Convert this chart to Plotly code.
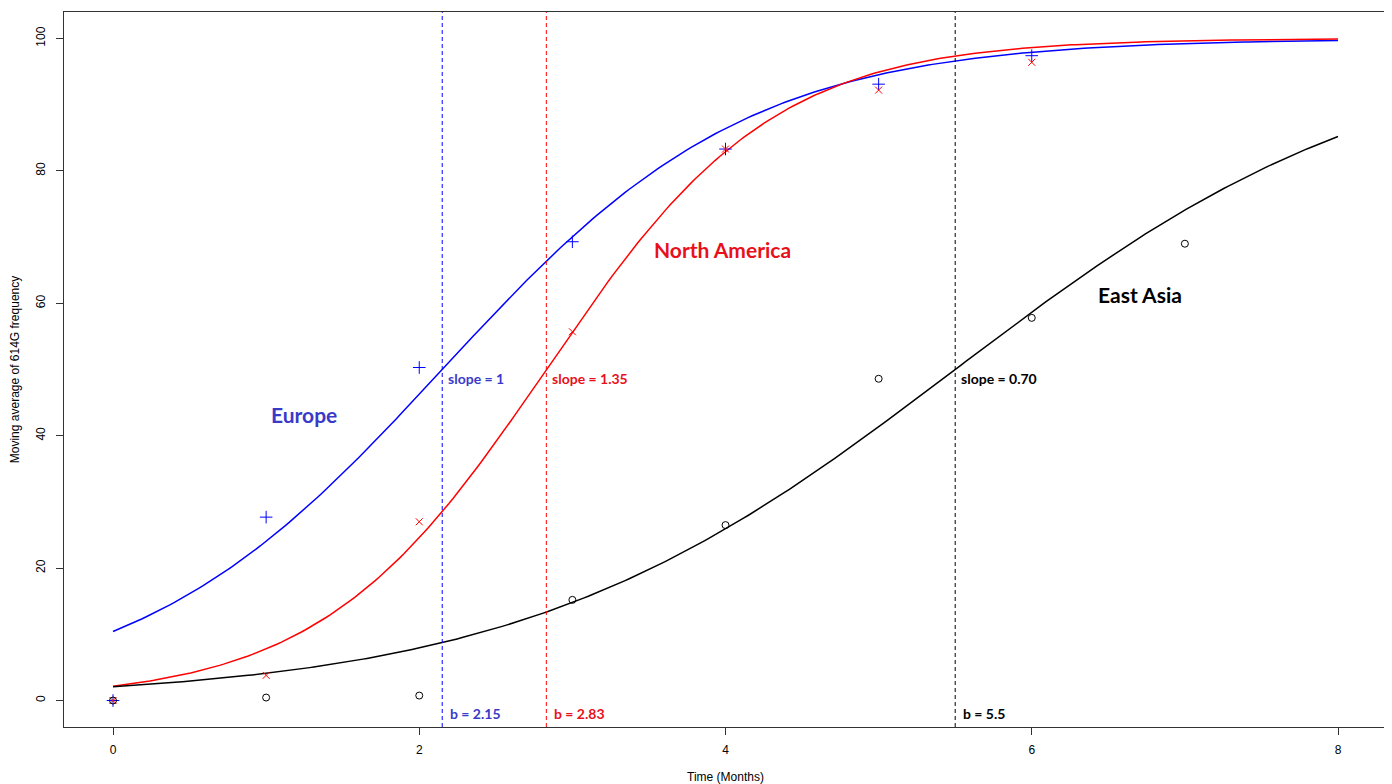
import numpy as np
import plotly.graph_objects as go

# Observed points
months = [0, 1, 2, 3, 4, 5, 6, 7]
europe = [0, 27.7, 50.3, 69.3, 83.3, 93.1, 97.4]
north_america = [0, 3.8, 27.0, 55.7, 83.3, 92.2, 96.4]
east_asia = [0, 0.45, 0.75, 15.2, 26.5, 48.6, 57.8, 69.0]

# Fitted logistic parameters (as labelled on the chart)
regions = ["Europe", "North America", "East Asia"]
b_vals = [2.15, 2.83, 5.5]
slopes = [1.0, 1.35, 0.70]
slope_labels = ["slope = 1", "slope = 1.35", "slope = 0.70"]
b_labels = ["b = 2.15", "b = 2.83", "b = 5.5"]

line_colors = ["#0000ff", "#ff0000", "#000000"]
text_colors = ["#3a3ac8", "#e8101a", "#000000"]

xs = np.linspace(0, 8, 300)

fig = go.Figure()

for b, s, c in zip(b_vals, slopes, line_colors):
    ys = 100 / (1 + np.exp(-s * (xs - b)))
    fig.add_trace(go.Scatter(x=xs, y=ys, mode="lines", line=dict(color=c, width=1.5),
                             showlegend=False, hoverinfo="skip"))

fig.add_trace(go.Scatter(x=months[:len(europe)], y=europe, mode="markers",
                         marker=dict(symbol="cross-thin-open", size=9, color="#0000ff",
                                     line=dict(color="#0000ff", width=1)),
                         showlegend=False))
fig.add_trace(go.Scatter(x=months[:len(north_america)], y=north_america, mode="markers",
                         marker=dict(symbol="x-thin-open", size=7, color="#ff0000",
                                     line=dict(color="#ff0000", width=1)),
                         showlegend=False))
fig.add_trace(go.Scatter(x=months[:len(east_asia)], y=east_asia, mode="markers",
                         marker=dict(symbol="circle-open", size=7, color="#000000",
                                     line=dict(color="#000000", width=1)),
                         showlegend=False))

for b, c in zip(b_vals, line_colors):
    fig.add_shape(type="line", x0=b, x1=b, y0=0, y1=1, xref="x", yref="paper",
                  line=dict(color=c, width=1, dash="4px,3px"))

bold = "Lato, Open Sans, sans-serif"
for b, sl, bl, tc in zip(b_vals, slope_labels, b_labels, text_colors):
    fig.add_annotation(x=b, y=48.6, text="<b>%s</b>" % sl, showarrow=False, xanchor="left",
                       xshift=4, font=dict(family=bold, size=14, color=tc))
    fig.add_annotation(x=b, y=-2.0, text="<b>%s</b>" % bl, showarrow=False, xanchor="left",
                       xshift=6, font=dict(family=bold, size=14, color=tc))

label_pos = [(1.25, 43.2), (3.98, 68.2), (6.71, 61.4)]
for name, (lx, ly), tc in zip(regions, label_pos, text_colors):
    fig.add_annotation(x=lx, y=ly, text="<b>%s</b>" % name, showarrow=False,
                       font=dict(family=bold, size=21, color=tc))

axis_family = "Liberation Sans, Arial, sans-serif"
axis_font = dict(family=axis_family, size=12, color="#000000")
fig.update_xaxes(range=[-0.32, 8.32], tickvals=[0, 2, 4, 6, 8], ticks="outside", ticklen=7,
                 tickcolor="#333", showline=True, linecolor="#333", linewidth=1, mirror=True,
                 showgrid=False, zeroline=False, tickfont=axis_font, automargin=False,
                 ticklabelstandoff=5,
                 title=dict(text="Time (Months)", font=dict(family=axis_family, size=12, color="#000"), standoff=16))
fig.update_yaxes(range=[-4, 104], tickvals=[0, 20, 40, 60, 80, 100], ticks="outside", ticklen=7,
                 tickcolor="#333", showline=True, linecolor="#333", linewidth=1, mirror=True,
                 showgrid=False, zeroline=False, tickfont=axis_font, tickangle=-90, automargin=False,
                 ticklabelstandoff=6,
                 title=dict(text="Moving average of 614G frequency", font=dict(family=axis_family, size=12, color="#000"), standoff=13))

fig.update_layout(width=1384, height=776, margin=dict(l=56, r=5, t=4, b=57),
                  plot_bgcolor="white", paper_bgcolor="white")

fig.write_html("out.html")
